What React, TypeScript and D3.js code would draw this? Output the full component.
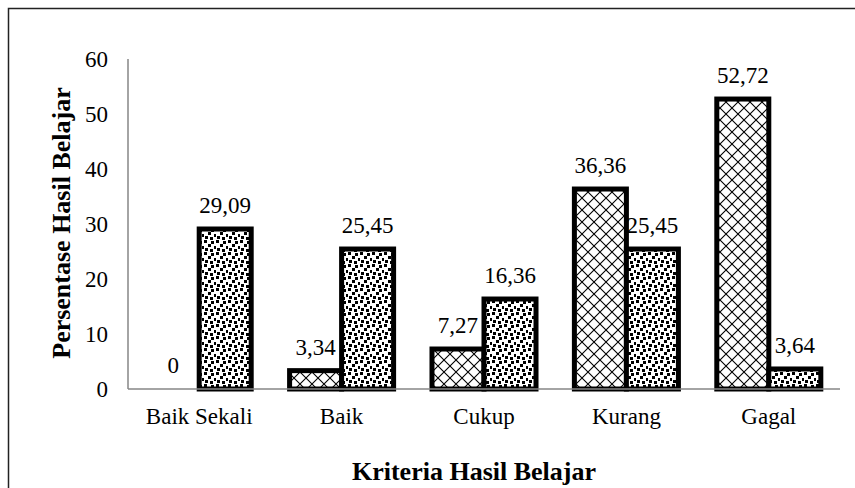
import * as d3 from "d3";

const categories = ["Baik Sekali", "Baik", "Cukup", "Kurang", "Gagal"];
const seriesKeys = ["a", "b"];
const valuesA = [0, 3.34, 7.27, 36.36, 52.72];
const valuesB = [29.09, 25.45, 16.36, 25.45, 3.64];
const yTicks = [0, 10, 20, 30, 40, 50, 60];

// confetti squares inside a 12x12 tile
const CONFETTI: [number, number][] = [
  [0, 0], [7, 1], [4, 4], [10, 6], [1, 8], [6, 9],
];

const W = 855;
const H = 488;
const FONT = "Liberation Serif, Times New Roman, DejaVu Serif, serif";

export default function App() {
  const x = d3.scaleBand<string>().domain(categories).range([128, 840]);
  const x1 = d3
    .scaleBand<string>()
    .domain(seriesKeys)
    .range([0, x.bandwidth()])
    .paddingOuter(0.369);
  const y = d3.scaleLinear().domain([0, 60]).range([389, 59]);

  const fmt = (v: number) => String(v).replace(".", ",");

  const series = [
    { key: "a", values: valuesA, fill: "url(#hatch)" },
    { key: "b", values: valuesB, fill: "url(#confetti)" },
  ];

  const txt = { fontFamily: FONT };

  return (
    <svg
      width={W}
      height={H}
      style={{ position: "absolute", left: 0, top: 0, background: "#fff", fontFamily: FONT }}
    >
      <defs>
        <pattern id="hatch" patternUnits="userSpaceOnUse" width={12} height={12}>
          <rect width={12} height={12} fill="#fff" />
          <path d="M0,0L12,12M12,0L0,12" stroke="#000" strokeWidth={1.1} />
        </pattern>
        <pattern id="confetti" patternUnits="userSpaceOnUse" width={12} height={12}>
          <rect width={12} height={12} fill="#fff" />
          {CONFETTI.map(([c, r], i) => (
            <rect key={i} x={c} y={r} width={3} height={3} fill="#000" shapeRendering="crispEdges" />
          ))}
        </pattern>
      </defs>

      <rect x={8.5} y={8.5} width={860} height={490} fill="none" stroke="#222" strokeWidth={1.5} />

      {/* y axis */}
      <line x1={128} x2={128} y1={y(60)} y2={y(0)} stroke="#868686" strokeWidth={1.5} />
      {yTicks.map(t => (
        <text key={t} x={108} y={y(t)} dy="0.34em" textAnchor="end" fontSize={23} fill="#000" style={txt}>
          {t}
        </text>
      ))}

      {/* bars */}
      {series.map(s =>
        s.values.map((v, i) => {
          const bx = (x(categories[i]) ?? 0) + (x1(s.key) ?? 0);
          const bw = x1.bandwidth();
          return (
            <g key={s.key + i}>
              {v > 0 && (
                <rect
                  x={bx}
                  y={y(v)}
                  width={bw}
                  height={y(0) - y(v)}
                  fill={s.fill}
                  stroke="#000"
                  strokeWidth={5}
                />
              )}
              <text
                x={bx + bw / 2}
                y={y(v) - 16}
                textAnchor="middle"
                fontSize={23}
                fill="#000"
                style={txt}
              >
                {fmt(v)}
              </text>
            </g>
          );
        })
      )}

      {/* x axis */}
      <line x1={128} x2={840} y1={y(0)} y2={y(0)} stroke="#868686" strokeWidth={1.5} />
      {categories.map(c => (
        <text
          key={c}
          x={(x(c) ?? 0) + x.bandwidth() / 2}
          y={424}
          textAnchor="middle"
          fontSize={23}
          fill="#000"
          style={txt}
        >
          {c}
        </text>
      ))}

      <text x={474} y={480} textAnchor="middle" fontSize={26} fontWeight="bold" fill="#000" style={txt}>
        Kriteria Hasil Belajar
      </text>
      <text
        transform="translate(70,223) rotate(-90)"
        textAnchor="middle"
        fontSize={26}
        fontWeight="bold"
        fill="#000"
        style={txt}
      >
        Persentase Hasil Belajar
      </text>
    </svg>
  );
}
